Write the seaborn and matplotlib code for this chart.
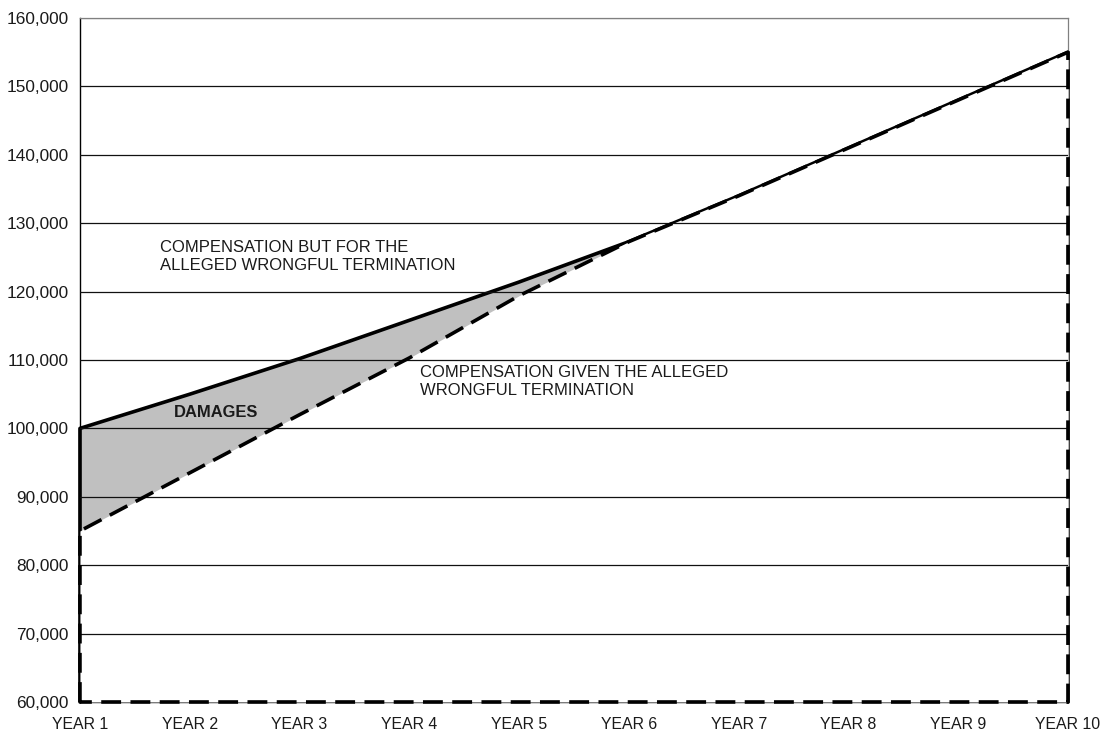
import matplotlib
matplotlib.use("Agg")
import matplotlib.pyplot as plt
import seaborn as sns
import pandas as pd
from matplotlib.ticker import FuncFormatter

# ---------------- data ----------------
years = [1, 2, 3, 4, 5, 6, 7, 8, 9, 10]
year_labels = [f"YEAR {y}" for y in years]
but_for = [100000, 105000, 110200, 115800, 121400, 127300, 134000, 141000, 148000, 155000]
given = [85000, 93500, 102000, 110300, 119400, 127300, 134000, 141000, 148000, 155000]
y_floor = 60000

df = pd.DataFrame({"year": years, "but_for": but_for, "given": given})

# outline paths (area-chart style: down to the floor at both ends)
solid_x = [1] + years + [10]
solid_y = [y_floor] + but_for + [y_floor]
dash_x = [1] + years + [10, 1]
dash_y = [y_floor] + given + [y_floor, y_floor]

# ---------------- style ----------------
sns.set_style("white")
plt.rcParams["font.family"] = ["Liberation Sans", "DejaVu Sans"]

fig = plt.figure(figsize=(11.09, 7.32), dpi=100)
ax = fig.add_axes([0.0721, 0.041, 0.8909, 0.9344])

# damages shading + "but for" area
ax.fill_between(df["year"], y_floor, df["but_for"], color="#c0c0c0", lw=0, zorder=1)
sns.lineplot(x=solid_x, y=solid_y, ax=ax, color="black", lw=2.6, sort=False,
             estimator=None, zorder=2, clip_on=False)
# "given" area is white and covers the lower half of the solid line where they meet
ax.fill_between(df["year"], y_floor, df["given"], color="white", lw=0, zorder=3)

# gridlines
for v in range(70000, 160001, 10000):
    ax.axhline(v, color="#808080" if v == 160000 else "#111111", lw=0.9, zorder=3.5)

sns.lineplot(x=dash_x, y=dash_y, ax=ax, color="black", lw=2.6, sort=False,
             estimator=None, zorder=5, clip_on=False, dashes=False)
ax.lines[-1].set_dashes((5.5, 2.6))

# annotations
ax.text(1.73, 127600, "COMPENSATION BUT FOR THE\nALLEGED WRONGFUL TERMINATION",
        fontsize=12, color="#1a1a1a", va="top", ha="left", linespacing=1.3)
ax.text(4.10, 109300, "COMPENSATION GIVEN THE ALLEGED\nWRONGFUL TERMINATION",
        fontsize=12, color="#1a1a1a", va="top", ha="left", linespacing=1.3)
ax.text(1.86, 102300, "DAMAGES", fontsize=11.9, fontweight="bold", color="#1a1a1a",
        va="center", ha="left", zorder=6)

# axes
ax.set_xlim(1, 10)
ax.set_ylim(60000, 160000)
ax.set_xticks(years)
ax.set_xticklabels(year_labels, fontsize=11.4)
ax.set_yticks(range(60000, 160001, 10000))
ax.yaxis.set_major_formatter(FuncFormatter(lambda v, p: f"{int(v):,}"))
ax.tick_params(axis="both", direction="out", length=5, width=0.8, color="#444444",
               labelcolor="#1a1a1a", pad=3)
ax.tick_params(axis="x", pad=6)
ax.tick_params(axis="y", labelsize=12.4)
ax.set_xlabel("")
ax.set_ylabel("")
ax.grid(False)
for side in ["top", "right"]:
    ax.spines[side].set_color("#808080")
    ax.spines[side].set_linewidth(0.9)
ax.spines["left"].set_color("black")
ax.spines["left"].set_linewidth(1.0)
ax.spines["bottom"].set_color("black")
ax.spines["bottom"].set_linewidth(1.0)

fig.savefig("out.png", dpi=100)
